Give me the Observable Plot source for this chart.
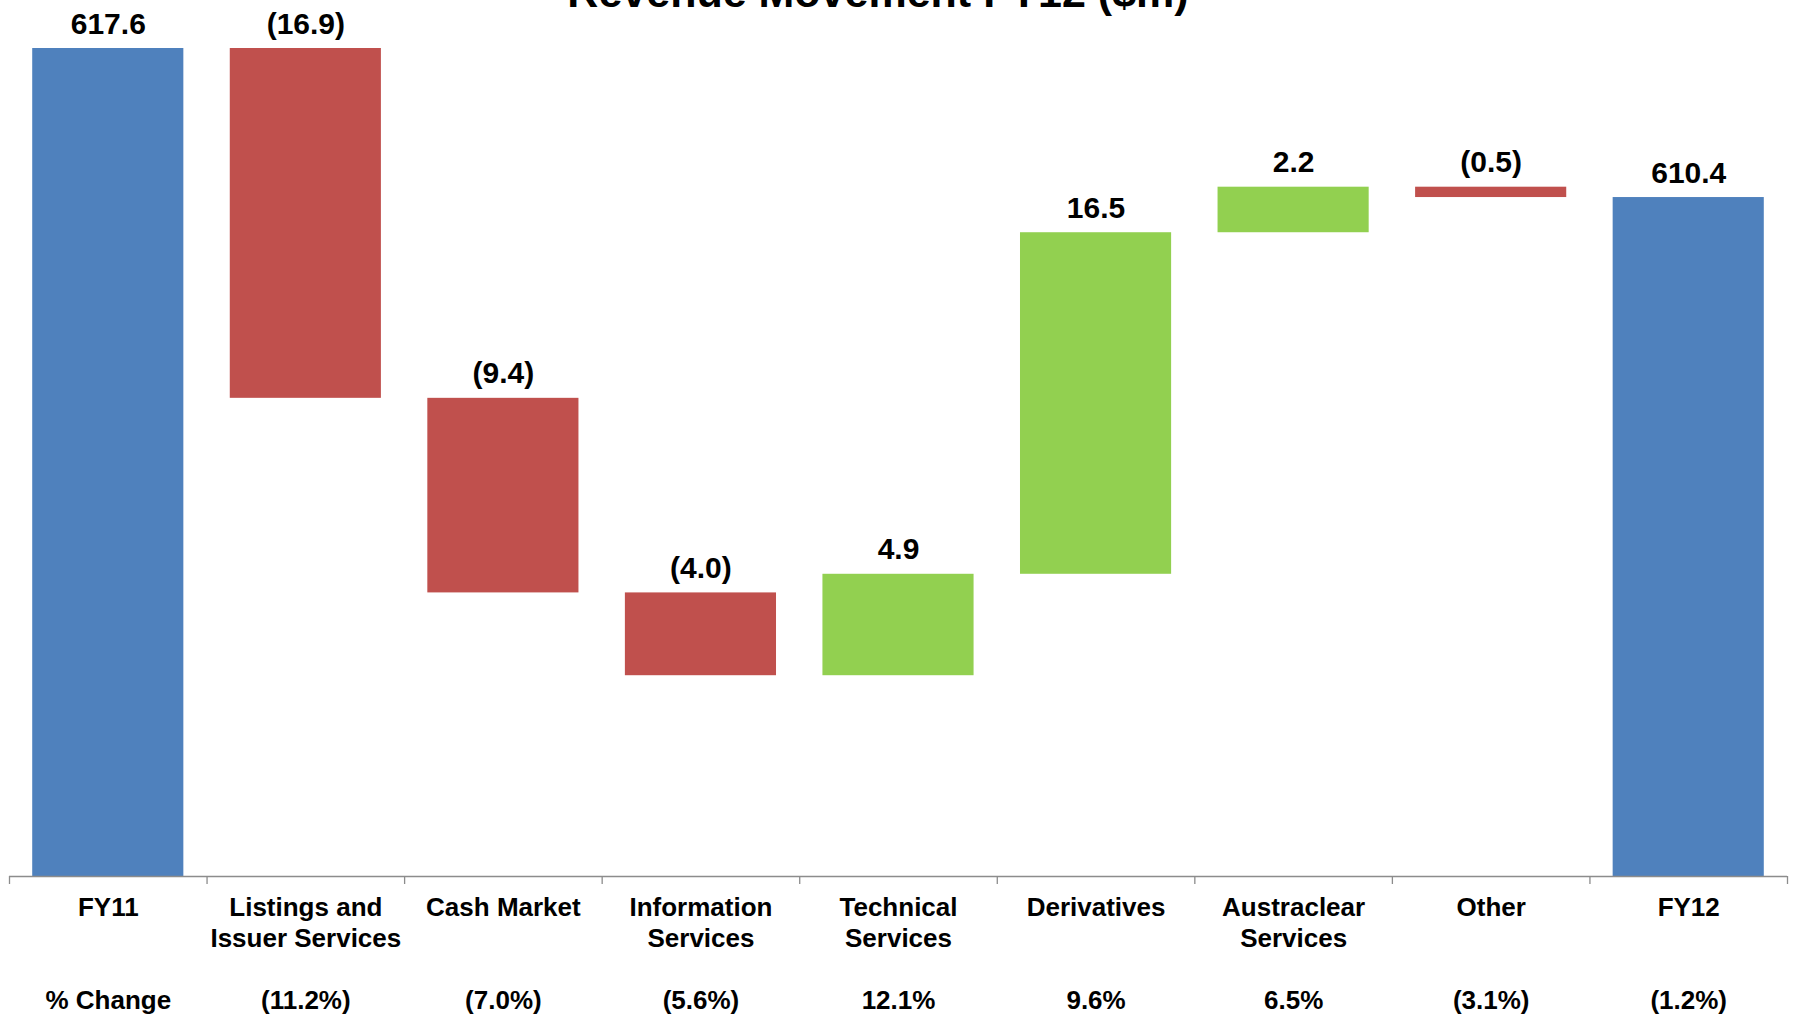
<!DOCTYPE html>
<html>
<head>
<meta charset="utf-8">
<script src="https://cdn.jsdelivr.net/npm/d3@7"></script>
<script src="https://cdn.jsdelivr.net/npm/@observablehq/plot@0.6"></script>
<style>
  html, body { margin: 0; padding: 0; background: #ffffff; }
  #wrap { position: relative; width: 1794px; height: 1016px; overflow: hidden; }
  #title {
    position: absolute; left: 0; top: -29px; width: 1756px;
    text-align: center; font: bold 43px "Liberation Sans", Arial, sans-serif;
    line-height: 43px; color: #000; white-space: nowrap;
  }
</style>
</head>
<body>
<div id="wrap">
  <div id="title">Revenue Movement FY12 ($m)</div>
  <div id="chart"></div>
</div>
<script>
// ---- data ----
const categories = ["FY11", "Listings and\nIssuer Services", "Cash Market", "Information\nServices",
  "Technical\nServices", "Derivatives", "Austraclear\nServices", "Other", "FY12"];
const values = [617.6, -16.9, -9.4, -4.0, 4.9, 16.5, 2.2, -0.5, 610.4];
const kinds = ["total", "delta", "delta", "delta", "delta", "delta", "delta", "delta", "total"];
const valueLabels = ["617.6", "(16.9)", "(9.4)", "(4.0)", "4.9", "16.5", "2.2", "(0.5)", "610.4"];
const pctLabels = ["% Change", "(11.2%)", "(7.0%)", "(5.6%)", "12.1%", "9.6%", "6.5%", "(3.1%)", "(1.2%)"];
const yDomain = [577.6, 617.6];

// ---- build waterfall table ----
const rows = [];
let running = 0;
categories.forEach((c, i) => {
  let y1, y2, fill;
  if (kinds[i] === "total") {
    y1 = yDomain[0]; y2 = values[i]; running = values[i]; fill = "#4F81BD";
  } else {
    y1 = running; y2 = running + values[i]; running = y2;
    fill = values[i] < 0 ? "#C0504D" : "#92D050";
  }
  rows.push({cat: c, y1, y2, top: Math.max(y1, y2), fill, label: valueLabels[i], pct: pctLabels[i]});
});

// ---- layout ----
const W = 1794, H = 1016;
const mTop = 48, mBottom = 140, mLeft = 9, mRight = 7;
const step = (W - mLeft - mRight) / categories.length;
const unitsPerPx = (yDomain[1] - yDomain[0]) / (H - mTop - mBottom);
const tickLen = 8;
const tickEnd = yDomain[0] - tickLen * unitsPerPx;
const axisColor = "#8C8C8C";

const chart = Plot.plot({
  width: W,
  height: H,
  marginTop: mTop,
  marginBottom: mBottom,
  marginLeft: mLeft,
  marginRight: mRight,
  style: {fontFamily: "'Liberation Sans', Arial, sans-serif", background: "#ffffff", color: "#000000"},
  x: {domain: categories, paddingInner: 0.235, paddingOuter: 0.1175, round: false, axis: null},
  y: {domain: yDomain, axis: null},
  marks: [
    Plot.barY(rows, {x: "cat", y1: "y1", y2: "y2", fill: "fill"}),
    Plot.ruleY([yDomain[0]], {stroke: axisColor, strokeWidth: 1.3}),
    Plot.ruleX(categories, {x: d => d, y1: yDomain[0], y2: tickEnd, dx: -step / 2, stroke: axisColor, strokeWidth: 1.3}),
    Plot.ruleX([categories[categories.length - 1]], {x: d => d, y1: yDomain[0], y2: tickEnd, dx: step / 2, stroke: axisColor, strokeWidth: 1.3}),
    Plot.text(rows, {x: "cat", y: "top", text: "label", dy: -15, lineAnchor: "bottom",
      fontSize: 30, fontWeight: "bold", fill: "#000000"}),
    Plot.text(rows, {x: "cat", frameAnchor: "bottom", text: "cat", dy: 17.5, lineAnchor: "top",
      lineHeight: 1.2, fontSize: 26, fontWeight: "bold", fill: "#000000"}),
    Plot.text(rows, {x: "cat", frameAnchor: "bottom", text: "pct", dy: 132, lineAnchor: "bottom",
      fontSize: 26, fontWeight: "bold", fill: "#000000"})
  ]
});
document.getElementById("chart").appendChild(chart);
</script>
</body>
</html>
